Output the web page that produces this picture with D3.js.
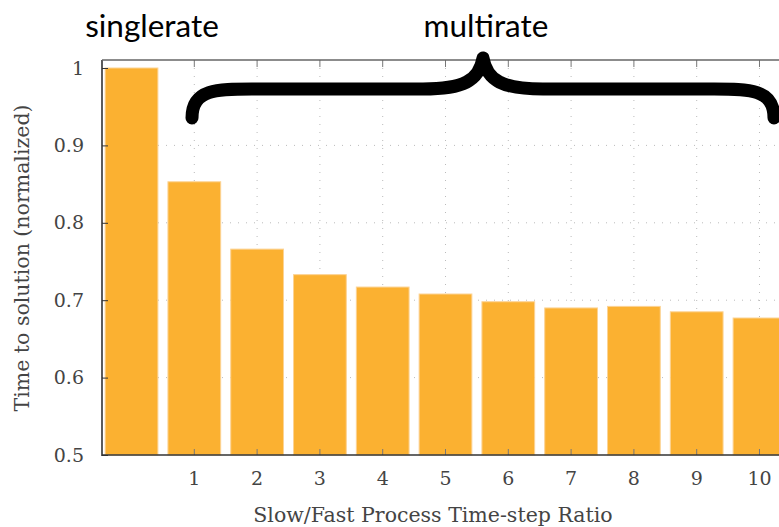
<!DOCTYPE html>
<html>
<head>
<meta charset="utf-8">
<script src="https://cdn.jsdelivr.net/npm/d3@7"></script>
<style>
  html, body { margin: 0; padding: 0; background: #fff; overflow: hidden; }
  svg { display: block; }
</style>
</head>
<body>
<svg id="chart" width="779" height="527"></svg>
<script>
// ---- data ----
const categories = ["single", "1", "2", "3", "4", "5", "6", "7", "8", "9", "10"];
const tickLabels = ["", "1", "2", "3", "4", "5", "6", "7", "8", "9", "10"];
const values = [1.0, 0.853, 0.766, 0.733, 0.717, 0.708, 0.698, 0.690, 0.692, 0.685, 0.677];
const yTicks = [0.5, 0.6, 0.7, 0.8, 0.9, 1.0];
const groupLabels = ["singlerate", "multirate"];

(function () {
// ---- layout ----
const svg = d3.select("#chart");
const mLeft = 102, mTop = 60, mBottom = 455;
const x = d3.scaleBand().domain(categories).range([mLeft, 789]).paddingInner(0.16).paddingOuter(0.05);
const y = d3.scaleLinear().domain([0.5, 1.0]).range([mBottom, 68]);

const serif = "'DejaVu Serif', serif";

// grid (dotted)
const grid = svg.append("g");
grid.selectAll("line.h").data(yTicks.slice(1, -1)).join("line")
  .attr("x1", mLeft).attr("x2", 779)
  .attr("y1", d => y(d)).attr("y2", d => y(d))
  .attr("stroke", "#bbb").attr("stroke-width", 1).attr("stroke-dasharray", "1,7");
grid.selectAll("line.v").data(categories.slice(1)).join("line")
  .attr("x1", d => x(d) + x.bandwidth() / 2).attr("x2", d => x(d) + x.bandwidth() / 2)
  .attr("y1", mTop).attr("y2", mBottom)
  .attr("stroke", "#bbb").attr("stroke-width", 1).attr("stroke-dasharray", "1,7");

// bars
svg.append("g").selectAll("rect").data(values).join("rect")
  .attr("x", (d, i) => x(categories[i]))
  .attr("width", x.bandwidth())
  .attr("y", d => y(d))
  .attr("height", d => mBottom - y(d))
  .attr("fill", "#fbb131")
  .attr("stroke", "#fcd394").attr("stroke-width", 1);

// axes
const axCol = "#333";
const yAxis = svg.append("g").attr("transform", `translate(${mLeft},0)`)
  .call(d3.axisLeft(y).tickValues(yTicks).tickSize(-6).tickPadding(18).tickFormat(d => d === 1 ? "1" : d3.format(".1f")(d)));
yAxis.select(".domain").remove();
yAxis.selectAll(".tick line").attr("stroke", axCol);
yAxis.selectAll(".tick text").attr("font-family", serif).attr("font-size", 19).attr("fill", "#444");

const xAxis = svg.append("g").attr("transform", `translate(0,${mBottom})`)
  .call(d3.axisBottom(x).tickSize(-6).tickPadding(17).tickFormat((d, i) => tickLabels[i]));
xAxis.select(".domain").remove();
xAxis.selectAll(".tick line").attr("stroke", "#777").attr("opacity", (d, i) => i === 0 ? 0 : 1);
xAxis.selectAll(".tick text").attr("font-family", serif).attr("font-size", 19).attr("fill", "#444");

const xTop = svg.append("g").attr("transform", `translate(0,${mTop})`)
  .call(d3.axisTop(x).tickSize(-7).tickFormat(""));
xTop.select(".domain").remove();
xTop.selectAll(".tick line").attr("stroke", "#777").attr("opacity", (d, i) => i === 0 ? 0 : 1);

// frame lines
svg.append("line").attr("x1", mLeft).attr("x2", mLeft).attr("y1", mTop).attr("y2", mBottom + 1)
  .attr("stroke", axCol).attr("stroke-width", 1.6);
svg.append("line").attr("x1", mLeft).attr("x2", 779).attr("y1", mBottom).attr("y2", mBottom)
  .attr("stroke", axCol).attr("stroke-width", 1.6);
svg.append("line").attr("x1", mLeft).attr("x2", 779).attr("y1", mTop).attr("y2", mTop)
  .attr("stroke", "#666").attr("stroke-width", 1.6);

// axis titles
svg.append("text").attr("x", 433).attr("y", 522).attr("text-anchor", "middle")
  .attr("font-family", serif).attr("font-size", 20.5).attr("fill", "#444")
  .text("Slow/Fast Process Time-step Ratio");
svg.append("text").attr("transform", "translate(29,258) rotate(-90)").attr("text-anchor", "middle")
  .attr("font-family", serif).attr("font-size", 20.5).attr("fill", "#444")
  .text("Time to solution (normalized)");

// group labels
const sans = "Lato, 'Open Sans', sans-serif";
svg.append("text").attr("x", 152).attr("y", 37).attr("text-anchor", "middle")
  .attr("font-family", sans).attr("font-size", 31.5).attr("fill", "#000").text(groupLabels[0]);
svg.append("text").attr("x", 486).attr("y", 37).attr("text-anchor", "middle")
  .attr("font-family", sans).attr("font-size", 31.5).attr("fill", "#000").text(groupLabels[1]);

// brace
const bl = 192, br = 774, bm = (bl + br) / 2, by = 89, tipY = 118, peakY = 58;
const brace = `M${bl},${tipY} C${bl},${by} ${bl + 25},${by} ${bl + 60},${by}
  L${bm - 60},${by} C${bm - 20},${by} ${bm - 4},${by - 8} ${bm},${peakY}
  C${bm + 4},${by - 8} ${bm + 20},${by} ${bm + 60},${by}
  L${br - 60},${by} C${br - 25},${by} ${br},${by} ${br},${tipY}`;
svg.append("path").attr("d", brace).attr("fill", "none").attr("stroke", "#000")
  .attr("stroke-width", 13).attr("stroke-linecap", "round").attr("stroke-linejoin", "round");
})();
</script>
</body>
</html>
